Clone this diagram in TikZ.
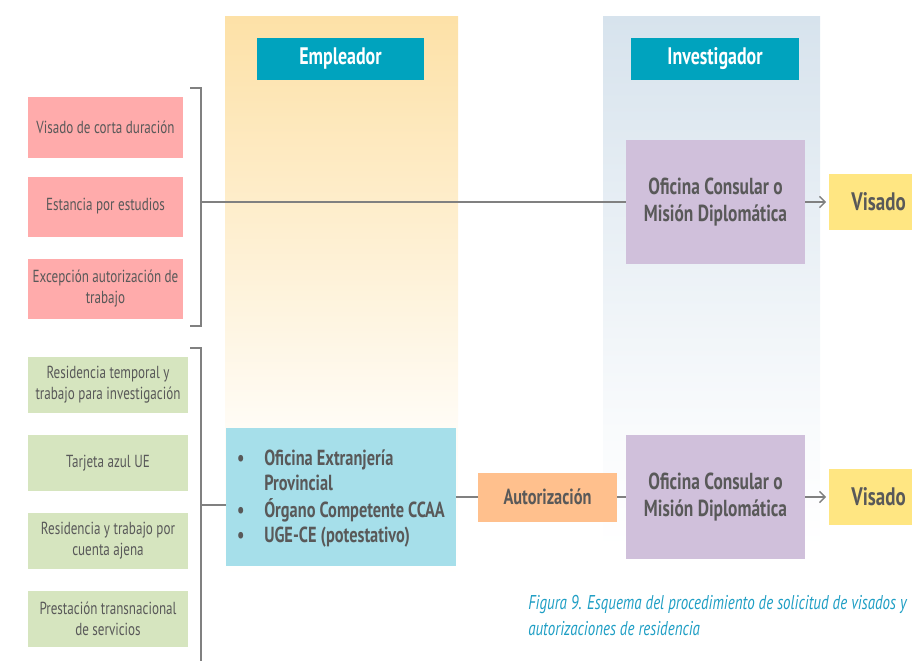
\documentclass[tikz,border=0pt]{standalone}
\usepackage{fontspec}
\setmainfont{PT Sans}[FakeStretch=0.75]
\usetikzlibrary{positioning,arrows.meta}

\definecolor{hdrteal}{HTML}{00A3BE}
\definecolor{pinkbox}{HTML}{FFABAB}
\definecolor{greenbox}{HTML}{D6E5BF}
\definecolor{bluebox}{HTML}{A6DFEA}
\definecolor{purplebox}{HTML}{D0C0DB}
\definecolor{yellowbox}{HTML}{FFE682}
\definecolor{orangebox}{HTML}{FFC08D}
\definecolor{txtgray}{HTML}{595959}
\definecolor{linegray}{HTML}{808080}
\definecolor{captteal}{HTML}{1E9EC4}
\definecolor{empbg}{HTML}{FDE1A7}
\definecolor{invbg}{HTML}{D7E3ED}

\begin{document}
\begin{tikzpicture}[
            x=0.025cm, y=-0.025cm,
            box/.style={
              inner sep=2pt,
              align=center,
              text=txtgray
            },
            tipo/.style={
              box,
              font=\fontsize{12.4}{15}\selectfont
            },
            cabecera/.style={
              fill=hdrteal, text=white,
              minimum width=4.175cm, minimum height=1.05cm,
              font=\fontsize{17}{20}\selectfont\bfseries
            },
            oficina/.style={
              box, fill=purplebox,
              minimum width=4.475cm, minimum height=3.075cm,
              font=\fontsize{16.5}{18.6}\selectfont\bfseries
            },
            visado/.style={
              box, fill=yellowbox,
              minimum width=2.5cm, minimum height=1.4cm,
              font=\fontsize{18}{20}\selectfont\bfseries
            },
            conector/.style={draw=linegray, line width=1pt},
            flecha/.style={conector, -{Straight Barb[length=4pt,width=8pt]}, shorten >=1.5pt}
        ]
\useasboundingbox (0,0) rectangle (912,660);
\clip (0,0) rectangle (912,660);

% columnas de fondo
\shade[top color=empbg, bottom color=empbg!10] (225,16) rectangle (458,430);
\shade[top color=empbg!10, bottom color=white] (225,430) rectangle (458,580);
\shade[top color=invbg, bottom color=invbg!15] (603,16) rectangle (820,430);
\shade[top color=invbg!15, bottom color=white] (603,430) rectangle (820,550);

\node[cabecera] (empleador) at (340.5,59) {Empleador};
\node[cabecera] (investigador) at (715,59) {Investigador};

% tipos de visado
\foreach \i/\y/\n in {1/127.5/Visado de corta duración, 2/206.5/Estancia por estudios, 3/288.5/{Excepción autorización de\\trabajo}}
    \node[tipo, fill=pinkbox, minimum width=3.875cm, minimum height=1.5cm] (visado\i) at (105.5,\y) {\n};

% tipos de autorizacion
\foreach \i/\y/\n in {1/385/{Residencia temporal y\\trabajo para investigación}, 2/463/Tarjeta azul UE, 3/541/{Residencia y trabajo por\\cuenta ajena}, 4/619/{Prestación transnacional\\de servicios}}
    \node[tipo, fill=greenbox, minimum width=4cm, minimum height=1.4cm] (autoriz\i) at (108,\y) {\n};

% llaves
\draw[conector] (190,88) -- (201,88) -- (201,326) -- (190,326);
\draw[conector] (190,348) -- (201,348) -- (201,670);
\coordinate (llaveA) at (201,202);
\coordinate (llaveB) at (201,505);

\node[oficina] (ofiA) at (715.5,202) {Oficina Consular o\\Misión Diplomática};
\node[visado, right=0.575cm of ofiA] (visA) {Visado};

\node[box, fill=bluebox, minimum width=5.75cm, minimum height=3.425cm,
      font=\fontsize{15.5}{17.7}\selectfont\bfseries] (azul) at (341,497)
    {\begin{tabular}{@{}l@{\hspace{14pt}}l@{}}
     \textbullet & Oficina Extranjería\\
                 & Provincial\\
     \textbullet & Órgano Competente CCAA\\
     \textbullet & UGE-CE (potestativo)
     \end{tabular}\\[-4pt]};
\node[box, fill=orangebox, minimum width=3.475cm, minimum height=1.225cm,
      font=\fontsize{15.5}{18}\selectfont\bfseries] (aut) at (547.5,497) {Autorización};
\node[oficina] (ofiB) at (715.5,497) {Oficina Consular o\\Misión Diplomática};
\node[visado, right=0.575cm of ofiB] (visB) {Visado};

\draw[conector] (llaveA) -- (llaveA -| ofiA.west);
\draw[flecha] (ofiA) -- (visA);
\draw[conector] (llaveB) -- (llaveB -| azul.west);
\draw[conector] (azul) -- (aut);
\draw[conector] (aut) -- (ofiB);
\draw[flecha] (ofiB) -- (visB);

\node[anchor=north west, align=left, text=captteal, inner sep=0pt,
      font=\fontsize{14.2}{18.4}\selectfont\itshape] (pie) at (528,595)
    {Figura 9. Esquema del procedimiento de solicitud de visados y\\autorizaciones de residencia};

\end{tikzpicture}
\end{document}
